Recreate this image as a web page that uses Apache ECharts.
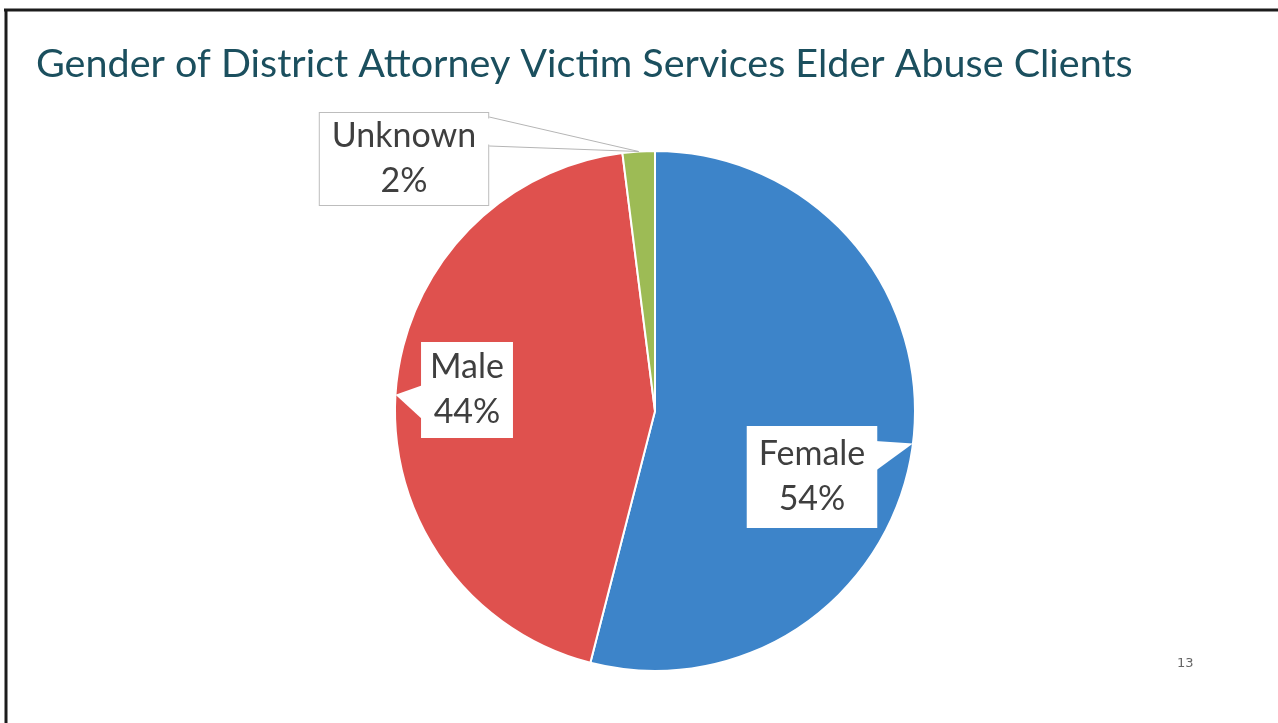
<!DOCTYPE html>
<html>
<head>
<meta charset="utf-8">
<script src="https://cdn.jsdelivr.net/npm/echarts@6/dist/echarts.min.js"></script>
<style>
  html, body { margin: 0; padding: 0; background: #fff; }
  #main { width: 1278px; height: 723px; }
</style>
</head>
<body>
<div id="main"></div>
<script>
// data
var categories = ['Female', 'Male', 'Unknown'];
var percents = [54, 44, 2];
var colors = ['#3d84c9', '#df514e', '#9dbb55'];

var titleText = 'Gender of District Attorney Victim Services Elder Abuse Clients';
var pageNumber = '13';

// callout boxes: centre relative to the pie centre, padding, pointer base (from box top)
var boxOffsets = [[157, 66], [-188, -21], [-251, -252]];
var boxPadding = [[6, 12], [3, 9], [1, 12]];
var pointerBase = [[15, 45], [43, 78], [5, 34]];

var cx = 655, cy = 411;

var myChart = echarts.init(document.getElementById('main'));

var rects = [];
var tips = [];

var seriesData = categories.map(function (name, i) {
    var boxed = i === 2;
    return {
        name: name,
        value: percents[i],
        itemStyle: { color: colors[i] },
        label: {
            padding: boxPadding[i],
            borderColor: boxed ? '#bdbdbd' : 'transparent',
            borderWidth: boxed ? 1 : 0
        }
    };
});

function baseGraphics() {
    return [
        // slide frame (only top and left edges are visible)
        { type: 'line', shape: { x1: 4, y1: 10, x2: 1278, y2: 10 }, style: { stroke: '#1c1c1c', lineWidth: 3 } },
        { type: 'line', shape: { x1: 6, y1: 9, x2: 6, y2: 723 }, style: { stroke: '#1c1c1c', lineWidth: 3 } },
        {
            type: 'text', left: 1177, top: 657,
            style: { text: pageNumber, fontSize: 13, fontFamily: 'DejaVu Sans', fill: '#666' }
        }
    ];
}

myChart.setOption({
    animation: false,
    title: {
        text: titleText,
        left: 31,
        top: 39,
        textStyle: {
            fontFamily: 'Lato',
            fontWeight: 'normal',
            fontSize: 39.5,
            color: '#1b4f5e'
        }
    },
    graphic: baseGraphics(),
    series: [
        {
            type: 'pie',
            center: [cx, cy],
            radius: 260,
            startAngle: 90,
            clockwise: true,
            avoidLabelOverlap: false,
            itemStyle: { borderColor: '#ffffff', borderWidth: 2 },
            label: {
                show: true,
                position: 'outside',
                formatter: function (p) { return p.name + '\n' + p.value + '%'; },
                fontFamily: 'Lato',
                fontSize: 34,
                lineHeight: 45,
                color: '#3f3f3f',
                align: 'center',
                backgroundColor: '#ffffff'
            },
            // kept only to get the anchor point on the slice edge; drawn invisible
            labelLine: { show: true, length: 10, length2: 10, lineStyle: { opacity: 0, width: 0 } },
            labelLayout: function (params) {
                var i = params.dataIndex;
                var off = boxOffsets[i];
                var r = params.labelRect;
                var bx = cx + off[0], by = cy + off[1];
                rects[i] = { x: bx - r.width / 2, y: by - r.height / 2, w: r.width, h: r.height };
                if (params.labelLinePoints) tips[i] = params.labelLinePoints[0].slice();
                return { x: bx, y: by, align: 'center', verticalAlign: 'middle' };
            },
            data: seriesData
        }
    ]
});

// callout pointers from each box to the middle of its slice edge
var pointers = [];
categories.forEach(function (name, i) {
    var rc = rects[i], tip = tips[i];
    if (!rc || !tip) return;
    var sideX = tip[0] > rc.x + rc.w / 2 ? rc.x + rc.w : rc.x;
    var inset = tip[0] > sideX ? -1 : 1;
    var y0 = rc.y + pointerBase[i][0], y1 = rc.y + pointerBase[i][1];
    if (i === 2) {
        // white wedge hides the box border where the pointer opens
        pointers.push({
            type: 'polygon', z: 99,
            shape: { points: [[sideX + inset * 3, y0 + 1.5], [sideX + 2, y0 + 1.5], tip, [sideX + 2, y1 - 1.5], [sideX + inset * 3, y1 - 1.5]] },
            style: { fill: '#ffffff' }
        });
        pointers.push({
            type: 'polyline', z: 100,
            shape: { points: [[sideX, y0], tip, [sideX, y1]] },
            style: { stroke: '#b5b5b5', lineWidth: 1, fill: null }
        });
    } else {
        pointers.push({
            type: 'polygon', z: 100,
            shape: { points: [[sideX + inset * 2, y0], tip, [sideX + inset * 2, y1]] },
            style: { fill: '#ffffff' }
        });
    }
});

myChart.setOption({ graphic: baseGraphics().concat(pointers) }, { replaceMerge: ['graphic'] });
</script>
</body>
</html>
